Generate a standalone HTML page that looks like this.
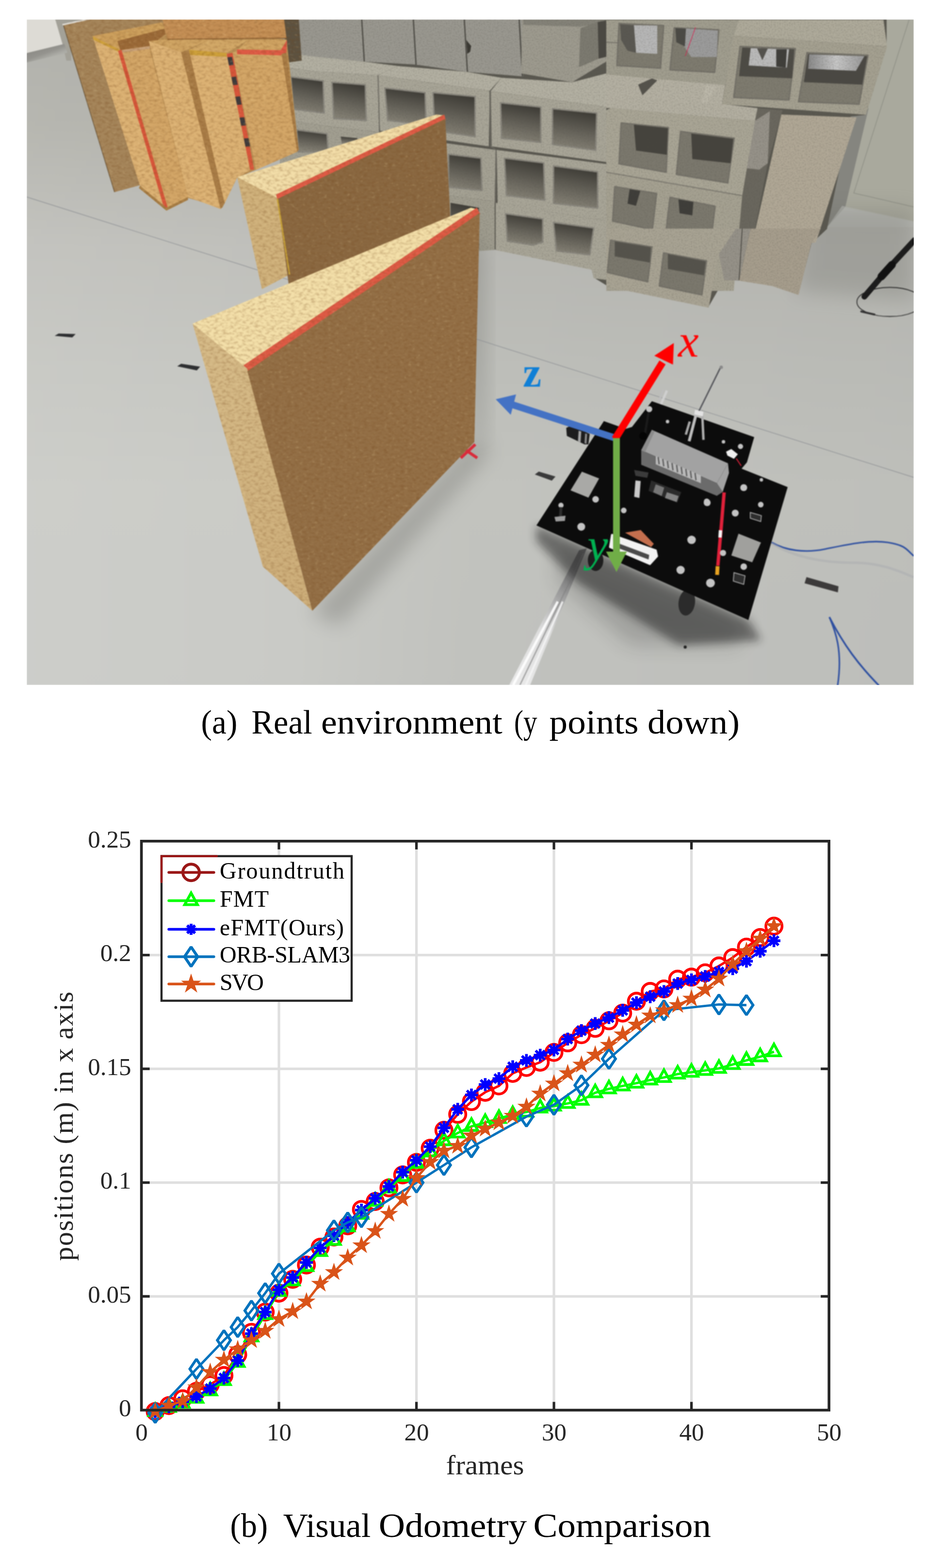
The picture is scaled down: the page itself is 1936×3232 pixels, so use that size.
<!DOCTYPE html>
<html lang="en"><head><meta charset="utf-8"><title>Figure: real environment and visual odometry comparison</title>
<style>
html,body{margin:0;padding:0;background:#fff;}
body{width:1936px;height:3232px;overflow:hidden;position:relative;font-family:"Liberation Serif",serif;}
svg{position:absolute;left:0;top:0;display:block;}
svg text{font-family:"Liberation Serif",serif;}
.cap{position:absolute;white-space:nowrap;font-family:"Liberation Serif",serif;color:#000;line-height:1;}
</style></head><body>
<svg xmlns="http://www.w3.org/2000/svg" width="1936" height="3232" viewBox="0 0 1936 3232">
<defs>
<linearGradient id="floorG" gradientUnits="userSpaceOnUse" x1="0" y1="40" x2="0" y2="1412">
<stop offset="0" stop-color="#a9a9a3"/><stop offset="0.16" stop-color="#afafa8"/><stop offset="0.34" stop-color="#bdbdb8"/><stop offset="0.52" stop-color="#c3c4bf"/><stop offset="0.7" stop-color="#c8c9c4"/><stop offset="1" stop-color="#c7c8c4"/>
</linearGradient>
<linearGradient id="floorG2" gradientUnits="userSpaceOnUse" x1="55" y1="0" x2="1884" y2="0">
<stop offset="0" stop-color="#ffffff" stop-opacity="0.1"/><stop offset="0.3" stop-color="#ffffff" stop-opacity="0.04"/><stop offset="0.5" stop-color="#000000" stop-opacity="0.03"/><stop offset="1" stop-color="#000000" stop-opacity="0.05"/>
</linearGradient>
<linearGradient id="baseG" gradientUnits="userSpaceOnUse" x1="60" y1="103" x2="70" y2="130">
<stop offset="0" stop-color="#8a8984"/><stop offset="0.6" stop-color="#94938e"/><stop offset="1" stop-color="#acaca6"/>
</linearGradient>
<linearGradient id="holeG" x1="0.2" y1="0" x2="0" y2="1">
<stop offset="0" stop-color="#3f3d37"/><stop offset="0.5" stop-color="#68655c"/><stop offset="1" stop-color="#8f8b7e"/>
</linearGradient>
<linearGradient id="glowG" x1="0" y1="0" x2="1" y2="0">
<stop offset="0" stop-color="#8a8a8a"/><stop offset="0.5" stop-color="#c9c9c9"/><stop offset="1" stop-color="#9a9a9a"/>
</linearGradient>
<linearGradient id="railG" gradientUnits="userSpaceOnUse" x1="1200" y1="1132" x2="1070" y2="1412">
<stop offset="0" stop-color="#6f6f6f"/><stop offset="0.35" stop-color="#a5a5a5"/><stop offset="0.6" stop-color="#dcdcdc"/><stop offset="1" stop-color="#e9e9e9"/>
</linearGradient>
<filter id="blur8" x="-20%" y="-20%" width="140%" height="140%"><feGaussianBlur stdDeviation="9"/></filter>
<linearGradient id="nearL" gradientUnits="userSpaceOnUse" x1="450" y1="700" x2="600" y2="1220">
<stop offset="0" stop-color="#d6bb88"/><stop offset="1" stop-color="#cdae7a"/>
</linearGradient>
<filter id="osbTex" x="0" y="0" width="100%" height="100%" color-interpolation-filters="sRGB">
<feTurbulence type="fractalNoise" baseFrequency="0.12 0.2" numOctaves="3" seed="7" result="n"/>
<feColorMatrix in="n" type="matrix" values="0 0 0 0 0.45  0 0 0 0 0.27  0 0 0 0 0.1  0.7 0 0 0 -0.3" result="dk"/>
<feColorMatrix in="n" type="matrix" values="0 0 0 0 1  0 0 0 0 0.92  0 0 0 0 0.7  0 -0.6 0 0 0.24" result="lt"/>
<feComposite in="dk" in2="SourceGraphic" operator="in" result="d2"/>
<feComposite in="lt" in2="SourceGraphic" operator="in" result="l2"/>
<feMerge><feMergeNode in="SourceGraphic"/><feMergeNode in="d2"/><feMergeNode in="l2"/></feMerge>
</filter>
<filter id="conTex" x="0" y="0" width="100%" height="100%" color-interpolation-filters="sRGB">
<feTurbulence type="fractalNoise" baseFrequency="0.4" numOctaves="2" seed="11" result="n"/>
<feColorMatrix in="n" type="matrix" values="0 0 0 0 0.3  0 0 0 0 0.29  0 0 0 0 0.26  0.7 0 0 0 -0.3" result="dk"/>
<feComposite in="dk" in2="SourceGraphic" operator="in" result="d2"/>
<feMerge><feMergeNode in="SourceGraphic"/><feMergeNode in="d2"/></feMerge>
</filter>
<filter id="soft" x="-2%" y="-2%" width="104%" height="104%" color-interpolation-filters="sRGB"><feGaussianBlur stdDeviation="1.1"/></filter>
<filter id="blur20" x="-30%" y="-30%" width="160%" height="160%"><feGaussianBlur stdDeviation="20"/></filter>

<clipPath id="photoClip"><rect x="55" y="40" width="1829" height="1372"/></clipPath>
</defs>
<g clip-path="url(#photoClip)">
<g id="photo" filter="url(#soft)">
<rect x="55" y="40" width="1829" height="1372" fill="url(#floorG)"/>
<rect x="55" y="40" width="1829" height="1372" fill="url(#floorG2)"/>
<polygon points="54.9,40.1 116.7,40.1 132.9,90.6 54.9,109.6" fill="#dddbd5" />
<polygon points="113.9,40.1 185.4,40.1 147.0,54.3 147.0,125.0 136.9,125.0 128.8,90.6" fill="#a3a198" />
<polygon points="54.9,109.6 132.9,90.6 138.9,108.8 54.9,129.1" fill="url(#baseG)" />
<polygon points="1819.4,41.0 1883.8,41.0 1883.8,457.1 1734.0,426.4 1786.6,235.9" fill="#a9a99d" />
<polyline points="1874.2,41.0 1760.3,397.9 1883.8,426.4" fill="none" stroke="#8f9086" stroke-width="1.5" />
<polygon points="1753.7,240.2 1790.9,222.7 1742.8,426.4 1705.5,468.0" fill="#85857f" />
<polygon points="1705.5,468.0 1736.2,424.2 1883.8,455.7 1883.8,468.0" fill="#b9bab6" opacity="0.6"/>
<polygon points="1660,430 1884,430 1884,620 1640,600" fill="#6a6a64" opacity="0.28" filter="url(#blur20)"/>
<g id="blocks" filter="url(#conTex)">
<polygon points="575.0,40.0 1828.0,40.0 1828.0,96.0 1785.0,237.0 1754.0,240.0 1705.0,472.0 1673.0,502.0 1646.0,606.0 1592.0,588.0 1524.0,577.0 1493.0,576.0 1461.0,632.0 1250.0,588.0 1224.0,572.0 1220.0,555.0 1014.0,513.0 986.0,515.0 900.0,400.0 575.0,300.0" fill="#5a5850" />
<polygon points="577.2,40.1 1078.6,40.1 1078.6,157.4 961.3,148.1 856.2,133.1 751.1,127.0 577.2,110.9" fill="#9b9991" />
<polyline points="745.8,40.1 751.1,127.0" fill="none" stroke="#4a4842" stroke-width="2.5" />
<polyline points="852.2,40.1 857.8,133.5" fill="none" stroke="#4a4842" stroke-width="2.5" />
<polyline points="957.3,40.1 963.7,148.1" fill="none" stroke="#4a4842" stroke-width="2.5" />
<polyline points="1070.5,40.1 1077.0,157.4" fill="none" stroke="#4a4842" stroke-width="2.5" />
<polygon points="961.3,82.6 971.4,94.7 969.4,106.8 963.3,110.9" fill="#3a3832" />
<polygon points="1076.5,40.1 1250.0,40.1 1250.0,127.0 1179.6,169.5 1074.5,151.3" fill="#9f9c90" />
<polygon points="1078.6,40.1 1250.0,40.1 1250.0,46.2 1195.8,55.1 1078.6,51.0" fill="#858379" />
<polygon points="1196.6,58.3 1232.2,45.4 1234.2,121.0 1193.8,138.4" fill="#7d7b71" />
<polygon points="1232.2,45.4 1250.0,42.1 1250.0,116.9 1234.2,121.0" fill="#4a4842" />
<polygon points="577.2,106.8 650.0,116.9 751.1,127.0 819.8,135.9 779.4,155.3 650.0,147.3 577.2,137.1" fill="#b5b2a4" />
<polygon points="779.4,155.3 819.8,135.9 961.3,148.1 1034.1,160.2 1009.8,186.9" fill="#b5b2a4" />
<polygon points="1011.9,187.7 1034.1,160.2 1179.6,169.5 1250.0,151.3 1250.0,220.8" fill="#b5b2a4" />
<polygon points="577.2,137.1 650.0,147.3 779.4,155.3 781.4,272.6 650.0,256.4 577.2,246.3" fill="#aaa799" />
<polygon points="779.4,155.3 1009.8,186.9 1007.8,301.7 783.4,269.4" fill="#aaa799" />
<polygon points="1011.9,187.7 1250.0,220.8 1250.0,334.0 1013.9,301.7" fill="#aaa799" />
<polygon points="599.5,158.6 666.2,166.7 668.2,233.0 605.5,224.9" fill="url(#holeG)" stroke-linejoin="round" stroke="#8a877e" stroke-width="3"/>
<polygon points="684.4,169.5 753.1,174.7 755.1,248.3 688.4,244.3" fill="url(#holeG)" stroke-linejoin="round" stroke="#8a877e" stroke-width="3"/>
<polygon points="793.5,181.6 876.4,190.9 878.4,257.2 799.6,248.3" fill="url(#holeG)" stroke-linejoin="round" stroke="#8a877e" stroke-width="3"/>
<polygon points="892.6,190.9 979.5,199.0 979.5,281.5 896.6,269.4" fill="url(#holeG)" stroke-linejoin="round" stroke="#8a877e" stroke-width="3"/>
<polygon points="1032.1,211.9 1115.0,220.8 1115.0,293.6 1034.1,284.7" fill="url(#holeG)" stroke-linejoin="round" stroke="#8a877e" stroke-width="3"/>
<polygon points="1139.2,224.1 1230.2,233.0 1228.2,309.8 1139.2,297.7" fill="url(#holeG)" stroke-linejoin="round" stroke="#8a877e" stroke-width="3"/>
<polygon points="577.2,246.3 650.0,256.4 781.4,272.6 781.4,393.9 577.2,393.9" fill="#a4a193" />
<polygon points="611.6,267.7 674.3,275.8 676.3,313.0 615.6,313.0" fill="url(#holeG)" stroke-linejoin="round" stroke="#8a877e" stroke-width="3"/>
<polygon points="702.6,281.5 736.9,284.7 736.9,292.8 704.6,296.8" fill="url(#holeG)" />
<polygon points="916.8,294.8 1022.0,309.0 1019.9,414.9 916.8,402.0" fill="#a6a395" />
<polygon points="924.9,317.9 991.6,326.0 993.7,392.7 924.9,385.8" fill="url(#holeG)" stroke-linejoin="round" stroke="#8a877e" stroke-width="3"/>
<polygon points="1024.0,309.0 1250.0,338.1 1250.0,455.3 1026.0,418.9" fill="#aaa799" />
<polygon points="1040.2,326.0 1121.0,335.7 1123.0,412.5 1044.2,402.8" fill="url(#holeG)" stroke-linejoin="round" stroke="#8a877e" stroke-width="3"/>
<polygon points="1141.2,342.1 1232.2,354.3 1232.2,429.1 1141.2,418.9" fill="url(#holeG)" stroke-linejoin="round" stroke="#8a877e" stroke-width="3"/>
<polyline points="1009.8,186.9 1011.9,301.7 1022.8,309.0 1021.2,418.1" fill="none" stroke="#6e6b63" stroke-width="2" />
<polyline points="779.4,155.3 782.6,272.6" fill="none" stroke="#6e6b63" stroke-width="2" />
<polygon points="916.8,402.0 1019.9,414.9 1019.9,515.2 985.6,517.6 916.8,517.6" fill="#a29f91" />
<polygon points="929.0,418.1 987.6,428.2 987.6,515.2 929.0,515.2" fill="url(#holeG)" />
<polygon points="1022.0,418.1 1250.0,455.3 1250.0,577.0 1224.1,573.8 1220.1,556.0 1022.0,515.6" fill="#aaa799" />
<polygon points="1042.2,440.4 1119.0,451.3 1119.0,499.0 1098.8,505.1 1046.2,497.0" fill="url(#holeG)" stroke-linejoin="round" stroke="#8a877e" stroke-width="3"/>
<polygon points="1141.2,458.6 1224.1,469.9 1216.0,525.3 1147.3,517.2" fill="url(#holeG)" stroke-linejoin="round" stroke="#8a877e" stroke-width="3"/>
</g>
<polygon points="985,900 1010,930 700,1290 640,1262" fill="#55554f" opacity="0.3" filter="url(#blur20)"/>
<polygon points="928,430 1000,520 1000,900 975,905" fill="#55554f" opacity="0.25" filter="url(#blur20)"/>
<g id="floormarks">
<polyline points="55.0,406.0 1884.0,984.0" fill="none" stroke="#8e9194" stroke-width="1.4" opacity="0.85"/>
<polygon points="112.7,692.3 120.8,687.4 155.9,688.6 149.1,695.5" fill="#2e2f31" />
<polygon points="365.4,754.9 373.5,749.7 412.7,755.7 405.8,763.4" fill="#2e2f31" />
<polygon points="1102.7,978.1 1110.8,971.9 1145.3,982.2 1137.7,990.8" fill="#3a3a3a" />
<polygon points="1662.8,1189.6 1728.8,1208.5 1727.5,1221.1 1658.8,1202.3" fill="#3c3a3a" />
<circle cx="1412.7" cy="1333.8" r="3.2" fill="#222" />
<polyline points="946.0,918.0 984.0,944.0" fill="none" stroke="#d92b3a" stroke-width="6" />
<polyline points="950.0,944.0 980.0,916.0" fill="none" stroke="#d92b3a" stroke-width="6" />
</g>
<g id="blocks2" filter="url(#conTex)">
<polygon points="1250.0,152.6 1495.3,174.5 1488.7,214.0 1556.6,222.7 1556.6,249.0 1258.8,222.7 1250.0,222.7" fill="#b6b2a4" />
<polygon points="1315.7,174.5 1344.2,161.4 1355.1,165.8 1324.5,196.4" fill="#55534c" />
<polygon points="1455.9,174.5 1477.8,176.7 1455.9,214.0 1447.1,211.8" fill="#bdb9ab" />
<polygon points="1611.0,236.0 1766.0,242.0 1682.0,500.0 1658.0,502.0 1640.0,592.0 1525.0,578.0 1557.0,476.0" fill="#b2a997" />
<polygon points="1556.6,222.7 1613.5,227.1 1582.9,336.6 1556.6,472.4 1530.3,517.1 1512.8,517.1 1530.3,402.3 1556.6,249.0" fill="#6a675e" />
<polygon points="1530.3,345.4 1556.6,249.0 1587.3,229.3 1582.9,336.6 1565.4,349.7" fill="#97938a" />
<polygon points="1250.0,41.0 1523.8,41.0 1495.3,175.4 1250.0,153.5" fill="#a29f90" />
<polygon points="1276.3,48.4 1368.3,52.8 1361.7,140.4 1271.9,135.1" fill="#7f7c70" stroke-linejoin="round" stroke="#76736a" stroke-width="3"/>
<polygon points="1390.2,57.2 1482.1,61.5 1473.4,149.1 1381.4,143.9" fill="#7f7c70" stroke-linejoin="round" stroke="#76736a" stroke-width="3"/>
<polygon points="1306.9,51.9 1355.1,52.8 1355.1,111.0 1311.3,108.8" fill="#b9b9b9" />
<polygon points="1278.5,49.7 1306.9,51.9 1311.3,108.8 1293.8,104.5 1280.7,82.6" fill="#5a5852" />
<polygon points="1412.1,58.5 1480.0,62.9 1477.8,117.6 1425.2,117.6 1407.7,91.3" fill="#9d9d9d" />
<polygon points="1392.4,58.0 1414.3,58.9 1412.1,95.7 1394.5,86.9" fill="#4b4a45" />
<polyline points="1434.0,56.3 1412.9,115.4" fill="none" stroke="#e02050" stroke-width="1.2" />
<polyline points="1250.0,86.9 1274.1,88.3" fill="none" stroke="#77746b" stroke-width="2" />
<polygon points="1523.8,41.0 1821.6,41.0 1829.0,95.7 1512.8,73.8" fill="#b0ac9c" />
<polygon points="1512.8,73.8 1829.0,95.7 1785.2,236.7 1488.7,214.8" fill="#a6a292" />
<polygon points="1525.9,95.7 1639.8,100.1 1626.7,206.1 1512.8,200.8" fill="#7f7c70" stroke-linejoin="round" stroke="#76736a" stroke-width="3"/>
<polygon points="1663.9,108.8 1789.6,114.1 1771.2,214.8 1646.4,209.6" fill="#7f7c70" stroke-linejoin="round" stroke="#76736a" stroke-width="3"/>
<polygon points="1530.3,97.9 1637.6,101.4 1633.3,161.4 1523.8,157.0" fill="#4d4b45" />
<polygon points="1547.8,99.2 1626.7,101.4 1622.3,139.5 1543.5,135.1" fill="#bdbdbd" />
<polygon points="1561.0,100.1 1582.9,100.1 1571.9,124.2" fill="#55534e" />
<polygon points="1600.4,101.4 1622.3,101.4 1620.1,139.5 1600.4,137.3" fill="#3f3e3a" />
<polygon points="1666.1,111.0 1787.9,115.8 1777.8,174.5 1657.3,169.3" fill="#4a4843" />
<polygon points="1668.3,111.9 1782.2,115.8 1764.7,146.1 1666.1,141.7" fill="url(#glowG)" />
<polygon points="1258.8,222.7 1289.4,195.6 1561.9,222.7 1556.6,249.0" fill="#b5b1a3" />
<polygon points="1250.0,227.1 1258.8,222.7 1556.6,249.0 1530.3,403.2 1250.0,355.0" fill="#aba797" />
<polygon points="1280.7,253.4 1377.9,263.0 1373.5,355.0 1276.3,337.5" fill="#7c796e" stroke-linejoin="round" stroke="#76736a" stroke-width="3"/>
<polygon points="1403.3,270.9 1513.7,284.9 1500.5,376.9 1394.5,359.4" fill="#7c796e" stroke-linejoin="round" stroke="#76736a" stroke-width="3"/>
<polygon points="1306.9,256.9 1377.0,264.3 1374.8,319.1 1311.3,310.3" fill="#45433d" />
<polygon points="1425.2,275.3 1511.9,286.2 1506.2,336.6 1427.4,327.8" fill="#45433d" />
<polygon points="1250.0,355.0 1530.3,403.2 1512.8,599.4 1250.0,599.4" fill="#a7a393" />
<polygon points="1267.5,384.8 1353.8,398.8 1345.0,473.3 1263.1,455.7" fill="#7c796e" stroke-linejoin="round" stroke="#76736a" stroke-width="3"/>
<polygon points="1381.4,406.7 1474.3,425.1 1465.5,499.5 1372.6,482.0" fill="#7c796e" stroke-linejoin="round" stroke="#76736a" stroke-width="3"/>
<polygon points="1298.2,390.0 1320.1,393.5 1311.3,424.2 1293.8,419.8" fill="#3e3d39" />
<polygon points="1398.9,411.1 1429.6,416.3 1427.4,443.9 1401.1,439.5" fill="#3e3d39" />
<polyline points="1250.0,355.0 1530.3,403.2" fill="none" stroke="#7b786f" stroke-width="2" />
<polygon points="1250.0,471.2 1521.6,471.2 1482.1,523.8 1461.1,634.2 1250.0,590.4" fill="#aaa595" />
<polygon points="1482.1,523.8 1517.2,471.2 1547.8,471.2 1523.8,578.6 1493.1,577.2" fill="#97938a" />
<polygon points="1523.8,578.6 1547.8,471.2 1692.4,471.2 1672.7,501.9 1646.4,607.9 1591.6,589.5" fill="#a89f8e" />
<polyline points="1530.3,471.2 1523.8,577.2" fill="none" stroke="#3f3d38" stroke-width="1.5" />
<polygon points="1258.8,495.3 1344.2,508.9 1335.4,580.7 1252.2,561.5" fill="#7c796e" stroke-linejoin="round" stroke="#76736a" stroke-width="3"/>
<polygon points="1368.3,521.6 1456.7,537.8 1447.1,607.9 1359.5,589.5" fill="#7c796e" stroke-linejoin="round" stroke="#76736a" stroke-width="3"/>
<polygon points="1267.5,497.5 1342.0,509.8 1339.8,541.3 1267.5,528.2" fill="#55534c" />
<polygon points="1377.0,523.8 1455.0,538.7 1451.5,567.6 1377.0,554.5" fill="#55534c" />
</g>
<g id="woodback" filter="url(#osbTex)">
<polygon points="583.7,40.1 616.0,40.1 622.1,125.0 591.8,129.1" fill="#5d5240" />
<polygon points="130.9,52.2 183.4,40.1 337.1,40.1 337.1,62.3 191.5,76.5 288.5,381.8 236.0,395.9" fill="#a5855a" />
<polyline points="128.8,51.0 185.4,38.9" fill="none" stroke="#e4e2dc" stroke-width="3" />
<polyline points="130.9,52.2 236.0,395.9" fill="none" stroke="#5d4a30" stroke-width="1.2" />
<polygon points="191.5,76.5 333.0,46.2 591.0,81.8 616.0,309.0 527.1,350.2 488.7,366.4 458.4,428.2 387.6,408.0 343.1,430.3 288.5,382.6" fill="#b88f55" />
<polygon points="189.5,74.5 333.0,46.2 341.1,62.3 308.8,94.7 248.1,103.6" fill="#cc9f5c" />
<polygon points="242.0,84.6 339.1,59.1 341.1,70.4 308.8,94.7 248.1,103.6" fill="#9b6a38" />
<polygon points="248.1,103.6 308.8,94.7 308.8,104.8 252.2,110.9" fill="#c9a27a" />
<polygon points="191.5,76.5 246.1,102.8 343.1,428.2 288.5,382.6" fill="#dcb274" />
<polygon points="191.5,75.3 246.1,102.0 246.1,107.6 192.3,81.8" fill="#cfa23e" />
<polygon points="250.1,108.8 308.8,100.8 387.6,406.0 343.1,428.2" fill="#d3a667" />
<polyline points="246.9,103.6 341.9,428.2" fill="none" stroke="#d8553a" stroke-width="7.5" />
<polygon points="288.5,382.6 343.1,428.2 387.6,406.0 387.6,412.1 343.1,434.3 286.5,387.8" fill="#a98048" />
<polygon points="306.7,84.6 389.6,77.7 430.1,82.6 373.5,107.6" fill="#cfa463" />
<polygon points="306.7,84.6 373.5,107.6 455.1,431.1 387.6,406.0" fill="#dcb274" />
<polygon points="373.5,107.6 390.4,103.6 463.2,418.9 455.1,431.1" fill="#a97d47" />
<polygon points="389.6,103.6 430.1,82.6 510.9,82.6 467.3,109.6" fill="#d2a867" />
<polygon points="389.6,103.6 467.3,110.9 515.8,350.2 488.7,366.4 463.2,418.9" fill="#dcb274" />
<polygon points="389.6,102.8 467.3,109.2 467.3,117.3 392.0,113.3" fill="#cda03a" />
<polygon points="467.3,110.9 479.4,108.8 523.9,349.4 515.8,350.2" fill="#d9553b" />
<polygon points="468.7,118.0 478.4,117.2 481.8,134.0 472.1,134.8" fill="#3c3a3c" />
<polygon points="477.0,158.7 486.7,157.9 490.1,174.7 480.4,175.5" fill="#3c3a3c" />
<polygon points="485.2,199.4 494.9,198.6 498.3,215.4 488.6,216.2" fill="#3c3a3c" />
<polygon points="493.9,242.5 503.6,241.7 507.0,258.5 497.3,259.3" fill="#3c3a3c" />
<polygon points="502.7,285.6 512.4,284.8 515.8,301.5 506.1,302.3" fill="#3c3a3c" />
<polygon points="478.6,108.8 488.7,104.8 510.9,82.6 591.0,81.8 580.5,103.6" fill="#d0a463" />
<polygon points="479.4,108.8 580.5,106.8 612.8,313.0 527.9,350.2" fill="#d3a667" />
<polygon points="488.7,102.0 578.8,103.6 591.8,82.6 590.2,110.1 578.0,114.1 488.7,111.7" fill="#df5a45" />
<polygon points="580.5,110.9 590.2,108.8 616.0,309.0 612.8,313.0" fill="#a87c46" />
<polygon points="335.0,40.1 585.7,40.1 590.6,78.5 345.1,80.9" fill="#c48f55" />
<polyline points="345.1,80.9 590.6,78.5" fill="none" stroke="#8f6335" stroke-width="2" />
</g>
<g id="panelmid" filter="url(#osbTex)">
<polygon points="489.0,365.0 572.0,405.0 597.0,566.0 540.0,596.0" fill="#d0b27c" />
<polygon points="489.0,365.0 900.0,236.0 917.0,238.0 572.0,408.0" fill="#f2dda8" />
<polygon points="569.0,401.0 916.0,236.0 919.0,248.0 573.0,414.0" fill="#df5a45" />
<polygon points="572.0,410.0 918.0,245.0 928.0,440.0 928.0,600.0 597.0,600.0" fill="#8a6841" />
<polyline points="572.0,410.0 597.0,566.0" fill="none" stroke="#c9a437" stroke-width="3" />
</g>
<g id="panelnear" filter="url(#osbTex)">
<polygon points="397.0,667.0 971.0,428.0 987.0,432.0 510.0,762.0" fill="#f3dfa9" />
<polygon points="502.0,753.0 983.0,428.0 990.0,441.0 511.0,768.0" fill="#df5a45" />
<polygon points="397.0,667.0 510.0,760.0 644.0,1259.0 542.0,1168.0" fill="url(#nearL)" />
<polygon points="510.0,765.0 989.0,439.0 978.0,911.0 644.0,1259.0" fill="#936f46" />
</g>
<polyline points="1885.1,495.3 1832.5,552.3 1782.2,611.4" fill="none" stroke="#1c1c1c" stroke-width="12" stroke-linecap="round"/>
<polyline points="1839.1,545.7 1817.2,569.8" fill="none" stroke="#111" stroke-width="16" stroke-linecap="round"/>
<ellipse cx="1834.7" cy="622.4" rx="68" ry="30" fill="none" stroke="#222" stroke-width="1.6"/>
<polyline points="1775.6,642.1 1802.8,648.2" fill="none" stroke="#333" stroke-width="4" stroke-linecap="round"/>
<path d="M1591,1118 C1620,1135 1660,1140 1700,1132 S1790,1112 1830,1118 S1870,1135 1884,1146" fill="none" stroke="#2e4fa0" stroke-width="3.2"/>
<path d="M1591,1120 C1640,1150 1700,1160 1760,1160 S1860,1180 1884,1190" fill="none" stroke="#a9abb0" stroke-width="5" opacity="0.5"/>
<path d="M1710,1272 C1740,1330 1770,1370 1812,1413" fill="none" stroke="#2e4fa0" stroke-width="3.6"/>
<path d="M1710,1272 C1722,1300 1738,1340 1727,1413" fill="none" stroke="#2e4fa0" stroke-width="3.2"/>
<g id="rail">
<polygon points="1194.0,1134.0 1210.0,1130.0 1093.0,1412.0 1050.0,1412.0" fill="url(#railG)" />
<polyline points="1203.0,1140.0 1072.0,1412.0" fill="none" stroke="#8d8d8d" stroke-width="2.5" opacity="0.8"/>
<polyline points="1150.0,1240.0 1058.0,1412.0" fill="none" stroke="#ffffff" stroke-width="5" opacity="0.9"/>
<polyline points="1160.0,1240.0 1084.0,1412.0" fill="none" stroke="#f4f4f4" stroke-width="4" opacity="0.9"/>
</g>
<g id="robot">
<polygon points="1106,1083 1543,1278 1570,1320 1400,1330 1190,1200 1105,1115" fill="#1a1a1a" opacity="0.5" filter="url(#blur8)"/><polygon points="1150,1120 1540,1285 1520,1330 1300,1330 1150,1200" fill="#1a1a1a" opacity="0.2" filter="url(#blur20)"/>
<ellipse cx="1416" cy="1242" rx="17" ry="27" fill="#2b2b2b" transform="rotate(8 1416 1242)"/>
<ellipse cx="1228" cy="1155" rx="16" ry="22" fill="#1e1e1e"/>
<polyline points="1486.0,757.0 1440.0,850.0" fill="none" stroke="#55565a" stroke-width="3.4" />
<polyline points="1487.0,759.0 1441.0,852.0" fill="none" stroke="#c9c9c9" stroke-width="1" />
<circle cx="1487.0" cy="757.0" r="3.5" fill="#8a8a8a" />
<polyline points="1375.0,805.0 1362.0,835.0" fill="none" stroke="#cfcfcf" stroke-width="5" />
<polyline points="1368.0,803.0 1356.0,832.0" fill="none" stroke="#bdbdbd" stroke-width="4" />
<polygon points="1106.0,1083.0 1245.0,868.0 1290.0,884.0 1303.0,880.0 1344.0,827.0 1555.0,901.0 1540.0,953.0 1529.0,966.0 1624.0,1004.0 1543.0,1278.0" fill="#0c0c0c" />
<polygon points="1167.4,881.9 1178.2,876.5 1215.9,894.6 1213.2,916.1 1205.1,916.1 1168.7,898.6" fill="#1d1d1d" />
<polygon points="1193.0,887.8 1198.4,889.2 1197.0,912.1 1191.6,909.4" fill="#a5a5a5" />
<polygon points="1206.5,893.2 1210.5,894.6 1209.2,914.8 1205.1,913.4" fill="#8d8d8d" />
<polygon points="1199.7,972.2 1235.3,986.2 1213.2,1025.8 1176.3,1010.7" fill="#a9a9a6" />
<polygon points="1522.6,1100.1 1569.0,1118.2 1550.9,1159.1 1507.8,1145.1" fill="#a0a09d" />
<polygon points="1342.6,990.2 1404.6,1014.5 1396.5,1036.1 1337.2,1011.8" fill="#2b2b2b" />
<polygon points="1310.2,990.2 1321.0,991.6 1318.3,1026.6 1307.5,1023.9" fill="#c9c9c9" />
<polygon points="1352.0,998.3 1369.5,1005.1 1364.2,1022.6 1346.6,1014.5" fill="#8a8a8a" opacity="0.8"/>
<polygon points="1374.9,1014.5 1399.2,1022.6 1395.1,1034.7 1370.9,1026.6" fill="#9a9a9a" opacity="0.8"/>
<polygon points="1307.5,968.7 1337.2,974.1 1334.5,984.9 1310.2,980.8" fill="#3b3b3b" />
<polyline points="1436.9,847.4 1420.8,909.4" fill="none" stroke="#bdbdbd" stroke-width="6" />
<polyline points="1447.7,850.1 1450.4,906.7" fill="none" stroke="#b0b0b0" stroke-width="5" />
<polyline points="1422.1,868.9 1414.0,895.9" fill="none" stroke="#a8a8a8" stroke-width="5" />
<polygon points="1432.9,844.7 1450.4,848.7 1449.1,858.2 1431.5,854.1" fill="#e3e3e3" />
<polygon points="1344.0,886.0 1501.0,955.0 1478.0,996.0 1322.0,928.0" fill="#a2a2a2" />
<polygon points="1322.0,928.0 1478.0,996.0 1490.0,1014.0 1478.0,1022.0 1322.0,958.0" fill="#6b6b6b" />
<polygon points="1352.0,940.0 1445.0,980.0 1445.0,996.0 1352.0,957.0" fill="#b8b8b8" />
<polyline points="1357.0,942.0 1359.0,957.0" fill="none" stroke="#555" stroke-width="2.5" />
<polyline points="1366.5,946.1 1368.5,961.1" fill="none" stroke="#555" stroke-width="2.5" />
<polyline points="1376.0,950.2 1378.0,965.2" fill="none" stroke="#555" stroke-width="2.5" />
<polyline points="1385.5,954.3 1387.5,969.3" fill="none" stroke="#555" stroke-width="2.5" />
<polyline points="1395.0,958.4 1397.0,973.4" fill="none" stroke="#555" stroke-width="2.5" />
<polyline points="1404.5,962.5 1406.5,977.5" fill="none" stroke="#555" stroke-width="2.5" />
<polyline points="1414.0,966.6 1416.0,981.6" fill="none" stroke="#555" stroke-width="2.5" />
<polyline points="1423.5,970.7 1425.5,985.7" fill="none" stroke="#555" stroke-width="2.5" />
<polyline points="1433.0,974.8 1435.0,989.8" fill="none" stroke="#555" stroke-width="2.5" />
<polygon points="1478.0,996.0 1501.0,955.0 1503.0,975.0 1490.0,1014.0" fill="#a2a2a2" />
<polygon points="1322.0,928.0 1344.0,886.0 1350.0,889.0 1330.0,932.0" fill="#8c8c8c" />
<polygon points="1497.0,930.9 1507.8,925.6 1521.3,936.3 1513.2,945.8 1499.7,939.0" fill="#f0f0f0" />
<polyline points="1518.0,945.0 1528.0,960.0" fill="none" stroke="#e0203a" stroke-width="2" />
<polyline points="1493.0,1015.0 1486.0,1098.0 1480.0,1166.0" fill="none" stroke="#e0213a" stroke-width="7" />
<polyline points="1485.5,1093.0 1484.5,1108.0" fill="none" stroke="#f3f3f3" stroke-width="7" />
<polyline points="1479.5,1167.0 1478.5,1185.0" fill="none" stroke="#e9a321" stroke-width="8" />
<polygon points="1261.7,1102.5 1352.0,1134.3 1354.7,1146.5 1339.9,1162.6 1257.7,1127.6" fill="#f2f2f2" stroke="#f2f2f2" stroke-width="4" stroke-linejoin="round"/>
<polygon points="1277.9,1120.9 1338.5,1143.8 1337.2,1153.2 1272.5,1128.9" fill="#4a4a4a" />
<polygon points="1288.7,1098.0 1321.0,1092.6 1348.0,1120.9 1342.6,1127.6" fill="#d87a55" opacity="0.9"/>
<circle cx="1338.5" cy="843.3" r="6.3" fill="#c4c4c4" />
<circle cx="1228.0" cy="1029.3" r="6.75" fill="#c4c4c4" />
<circle cx="1156.6" cy="1041.5" r="5.4" fill="#c4c4c4" />
<circle cx="1286.0" cy="1052.2" r="5.8500000000000005" fill="#c4c4c4" />
<circle cx="1457.1" cy="1033.4" r="5.8500000000000005" fill="#c4c4c4" />
<circle cx="1376.3" cy="868.9" r="3.6" fill="#c4c4c4" />
<circle cx="1526.7" cy="920.2" r="5.4" fill="#c4c4c4" />
<circle cx="1533.4" cy="1005.1" r="7.2" fill="#c4c4c4" />
<circle cx="1568.5" cy="1040.1" r="5.8500000000000005" fill="#c4c4c4" />
<circle cx="1515.9" cy="1057.6" r="7.2" fill="#c4c4c4" />
<circle cx="1458.0" cy="1036.1" r="7.2" fill="#c4c4c4" />
<circle cx="1491.6" cy="910.7" r="3.6" fill="#c4c4c4" />
<circle cx="1569.8" cy="988.9" r="3.6" fill="#c4c4c4" />
<circle cx="1198.4" cy="1085.8" r="8.1" fill="#c4c4c4" />
<circle cx="1426.1" cy="1112.8" r="8.55" fill="#c4c4c4" />
<circle cx="1403.2" cy="1174.8" r="8.55" fill="#c4c4c4" />
<circle cx="1465.2" cy="1201.7" r="8.55" fill="#c4c4c4" />
<circle cx="1490.8" cy="1139.7" r="6.3" fill="#c4c4c4" />
<circle cx="1425.6" cy="1112.8" r="8.55" fill="#c4c4c4" />
<circle cx="1490.3" cy="1139.7" r="5.8500000000000005" fill="#c4c4c4" />
<circle cx="1464.7" cy="1201.7" r="9.0" fill="#c4c4c4" />
<circle cx="1533.4" cy="1168.0" r="6.75" fill="#c4c4c4" />
<polyline points="1337.2,850.1 1329.1,898.6" fill="none" stroke="#1a1a1a" stroke-width="5" />
<circle cx="1325.9" cy="898.6" r="8" fill="#050505" />
<polyline points="1156.6,1045.4 1155.3,1069.6" fill="none" stroke="#2c2c2c" stroke-width="6" />
<polygon points="1143.1,1065.6 1166.0,1062.9 1164.7,1073.7 1145.8,1075.0" fill="#9c9c9c" />
<polygon points="1513.2,1180.2 1536.1,1186.9 1533.4,1204.4 1511.9,1197.7" fill="#2e2e2e" stroke="#bbb" stroke-width="1.5"/>
<polygon points="1546.9,1056.2 1569.8,1062.9 1568.5,1075.0 1546.9,1068.3" fill="#2e2e2e" stroke="#bbb" stroke-width="1.5"/>
</g>
<g id="arrows">
<polyline points="1272.0,904.0 1056.0,834.0" fill="none" stroke="#4472c4" stroke-width="14" />
<polygon points="1022.0,823.0 1064.0,813.0 1053.0,855.0" fill="#4472c4" />
<polyline points="1268.0,905.0 1366.0,747.0" fill="none" stroke="#ff0000" stroke-width="15" />
<polygon points="1389.3,706.9 1349.0,733.2 1387.5,751.6" fill="#ff0000" />
<polyline points="1271.0,903.0 1271.0,1140.0" fill="none" stroke="#70ad47" stroke-width="14" />
<polygon points="1249.5,1137.0 1292.5,1137.0 1271.0,1179.0" fill="#70ad47" />
</g>
<text x="1398" y="735" font-family="'Liberation Serif', serif" font-style="italic" font-size="96" fill="#ff0000">x</text>
<text x="1078" y="797" font-family="'Liberation Serif', serif" font-weight="bold" font-size="86" fill="#0f7fd6">z</text>
<text x="1211" y="1156" font-family="'Liberation Serif', serif" font-style="italic" font-size="96" fill="#00b050">y</text>
</g>
</g>
<g id="chart">
<rect x="291.6" y="1733.8" width="1417.6" height="1172.8" fill="#fff"/>
<line x1="575.1" y1="1733.8" x2="575.1" y2="2906.6" stroke="#dfdfdf" stroke-width="5.3"/>
<line x1="858.6" y1="1733.8" x2="858.6" y2="2906.6" stroke="#dfdfdf" stroke-width="5.3"/>
<line x1="1142.1" y1="1733.8" x2="1142.1" y2="2906.6" stroke="#dfdfdf" stroke-width="5.3"/>
<line x1="1425.6" y1="1733.8" x2="1425.6" y2="2906.6" stroke="#dfdfdf" stroke-width="5.3"/>
<line x1="291.6" y1="2672.1" x2="1709.2" y2="2672.1" stroke="#dfdfdf" stroke-width="5.3"/>
<line x1="291.6" y1="2437.6" x2="1709.2" y2="2437.6" stroke="#dfdfdf" stroke-width="5.3"/>
<line x1="291.6" y1="2203.1" x2="1709.2" y2="2203.1" stroke="#dfdfdf" stroke-width="5.3"/>
<line x1="291.6" y1="1968.6" x2="1709.2" y2="1968.6" stroke="#dfdfdf" stroke-width="5.3"/>
<line x1="575.1" y1="2906.6" x2="575.1" y2="2889.6" stroke="#262626" stroke-width="5.3"/>
<line x1="575.1" y1="1733.8" x2="575.1" y2="1750.8" stroke="#262626" stroke-width="5.3"/>
<line x1="858.6" y1="2906.6" x2="858.6" y2="2889.6" stroke="#262626" stroke-width="5.3"/>
<line x1="858.6" y1="1733.8" x2="858.6" y2="1750.8" stroke="#262626" stroke-width="5.3"/>
<line x1="1142.1" y1="2906.6" x2="1142.1" y2="2889.6" stroke="#262626" stroke-width="5.3"/>
<line x1="1142.1" y1="1733.8" x2="1142.1" y2="1750.8" stroke="#262626" stroke-width="5.3"/>
<line x1="1425.6" y1="2906.6" x2="1425.6" y2="2889.6" stroke="#262626" stroke-width="5.3"/>
<line x1="1425.6" y1="1733.8" x2="1425.6" y2="1750.8" stroke="#262626" stroke-width="5.3"/>
<line x1="291.6" y1="2672.1" x2="308.6" y2="2672.1" stroke="#262626" stroke-width="5.3"/>
<line x1="1709.2" y1="2672.1" x2="1692.2" y2="2672.1" stroke="#262626" stroke-width="5.3"/>
<line x1="291.6" y1="2437.6" x2="308.6" y2="2437.6" stroke="#262626" stroke-width="5.3"/>
<line x1="1709.2" y1="2437.6" x2="1692.2" y2="2437.6" stroke="#262626" stroke-width="5.3"/>
<line x1="291.6" y1="2203.1" x2="308.6" y2="2203.1" stroke="#262626" stroke-width="5.3"/>
<line x1="1709.2" y1="2203.1" x2="1692.2" y2="2203.1" stroke="#262626" stroke-width="5.3"/>
<line x1="291.6" y1="1968.6" x2="308.6" y2="1968.6" stroke="#262626" stroke-width="5.3"/>
<line x1="1709.2" y1="1968.6" x2="1692.2" y2="1968.6" stroke="#262626" stroke-width="5.3"/>
<polyline points="320.0,2909.4 348.3,2897.2 376.7,2883.2 405.0,2867.7 433.4,2854.1 461.7,2835.3 490.1,2792.2 518.4,2746.2 546.8,2704.5 575.1,2665.5 603.5,2636.9 631.8,2607.4 660.2,2570.8 688.5,2549.7 716.9,2526.7 745.2,2492.9 773.6,2476.5 801.9,2448.4 830.2,2421.7 858.6,2395.9 887.0,2366.8 915.3,2329.7 943.7,2296.9 972.0,2270.6 1000.4,2251.4 1028.7,2238.3 1057.1,2212.5 1085.4,2200.3 1113.8,2189.5 1142.1,2169.3 1170.5,2149.6 1198.8,2132.8 1227.2,2119.6 1255.5,2104.1 1283.8,2088.2 1312.2,2063.8 1340.6,2043.6 1368.9,2038.5 1397.2,2018.3 1425.6,2014.1 1454.0,2005.2 1482.3,1991.1 1510.7,1973.8 1539.0,1952.2 1567.3,1932.5 1595.7,1909.0" fill="none" stroke="#ff0000" stroke-width="4.9" stroke-linejoin="round"/><circle cx="320.0" cy="2909.4" r="16.7" fill="none" stroke="#ff0000" stroke-width="5.6"/><circle cx="348.3" cy="2897.2" r="16.7" fill="none" stroke="#ff0000" stroke-width="5.6"/><circle cx="376.7" cy="2883.2" r="16.7" fill="none" stroke="#ff0000" stroke-width="5.6"/><circle cx="405.0" cy="2867.7" r="16.7" fill="none" stroke="#ff0000" stroke-width="5.6"/><circle cx="433.4" cy="2854.1" r="16.7" fill="none" stroke="#ff0000" stroke-width="5.6"/><circle cx="461.7" cy="2835.3" r="16.7" fill="none" stroke="#ff0000" stroke-width="5.6"/><circle cx="490.1" cy="2792.2" r="16.7" fill="none" stroke="#ff0000" stroke-width="5.6"/><circle cx="518.4" cy="2746.2" r="16.7" fill="none" stroke="#ff0000" stroke-width="5.6"/><circle cx="546.8" cy="2704.5" r="16.7" fill="none" stroke="#ff0000" stroke-width="5.6"/><circle cx="575.1" cy="2665.5" r="16.7" fill="none" stroke="#ff0000" stroke-width="5.6"/><circle cx="603.5" cy="2636.9" r="16.7" fill="none" stroke="#ff0000" stroke-width="5.6"/><circle cx="631.8" cy="2607.4" r="16.7" fill="none" stroke="#ff0000" stroke-width="5.6"/><circle cx="660.2" cy="2570.8" r="16.7" fill="none" stroke="#ff0000" stroke-width="5.6"/><circle cx="688.5" cy="2549.7" r="16.7" fill="none" stroke="#ff0000" stroke-width="5.6"/><circle cx="716.9" cy="2526.7" r="16.7" fill="none" stroke="#ff0000" stroke-width="5.6"/><circle cx="745.2" cy="2492.9" r="16.7" fill="none" stroke="#ff0000" stroke-width="5.6"/><circle cx="773.6" cy="2476.5" r="16.7" fill="none" stroke="#ff0000" stroke-width="5.6"/><circle cx="801.9" cy="2448.4" r="16.7" fill="none" stroke="#ff0000" stroke-width="5.6"/><circle cx="830.2" cy="2421.7" r="16.7" fill="none" stroke="#ff0000" stroke-width="5.6"/><circle cx="858.6" cy="2395.9" r="16.7" fill="none" stroke="#ff0000" stroke-width="5.6"/><circle cx="887.0" cy="2366.8" r="16.7" fill="none" stroke="#ff0000" stroke-width="5.6"/><circle cx="915.3" cy="2329.7" r="16.7" fill="none" stroke="#ff0000" stroke-width="5.6"/><circle cx="943.7" cy="2296.9" r="16.7" fill="none" stroke="#ff0000" stroke-width="5.6"/><circle cx="972.0" cy="2270.6" r="16.7" fill="none" stroke="#ff0000" stroke-width="5.6"/><circle cx="1000.4" cy="2251.4" r="16.7" fill="none" stroke="#ff0000" stroke-width="5.6"/><circle cx="1028.7" cy="2238.3" r="16.7" fill="none" stroke="#ff0000" stroke-width="5.6"/><circle cx="1057.1" cy="2212.5" r="16.7" fill="none" stroke="#ff0000" stroke-width="5.6"/><circle cx="1085.4" cy="2200.3" r="16.7" fill="none" stroke="#ff0000" stroke-width="5.6"/><circle cx="1113.8" cy="2189.5" r="16.7" fill="none" stroke="#ff0000" stroke-width="5.6"/><circle cx="1142.1" cy="2169.3" r="16.7" fill="none" stroke="#ff0000" stroke-width="5.6"/><circle cx="1170.5" cy="2149.6" r="16.7" fill="none" stroke="#ff0000" stroke-width="5.6"/><circle cx="1198.8" cy="2132.8" r="16.7" fill="none" stroke="#ff0000" stroke-width="5.6"/><circle cx="1227.2" cy="2119.6" r="16.7" fill="none" stroke="#ff0000" stroke-width="5.6"/><circle cx="1255.5" cy="2104.1" r="16.7" fill="none" stroke="#ff0000" stroke-width="5.6"/><circle cx="1283.8" cy="2088.2" r="16.7" fill="none" stroke="#ff0000" stroke-width="5.6"/><circle cx="1312.2" cy="2063.8" r="16.7" fill="none" stroke="#ff0000" stroke-width="5.6"/><circle cx="1340.6" cy="2043.6" r="16.7" fill="none" stroke="#ff0000" stroke-width="5.6"/><circle cx="1368.9" cy="2038.5" r="16.7" fill="none" stroke="#ff0000" stroke-width="5.6"/><circle cx="1397.2" cy="2018.3" r="16.7" fill="none" stroke="#ff0000" stroke-width="5.6"/><circle cx="1425.6" cy="2014.1" r="16.7" fill="none" stroke="#ff0000" stroke-width="5.6"/><circle cx="1454.0" cy="2005.2" r="16.7" fill="none" stroke="#ff0000" stroke-width="5.6"/><circle cx="1482.3" cy="1991.1" r="16.7" fill="none" stroke="#ff0000" stroke-width="5.6"/><circle cx="1510.7" cy="1973.8" r="16.7" fill="none" stroke="#ff0000" stroke-width="5.6"/><circle cx="1539.0" cy="1952.2" r="16.7" fill="none" stroke="#ff0000" stroke-width="5.6"/><circle cx="1567.3" cy="1932.5" r="16.7" fill="none" stroke="#ff0000" stroke-width="5.6"/><circle cx="1595.7" cy="1909.0" r="16.7" fill="none" stroke="#ff0000" stroke-width="5.6"/>
<polyline points="320.0,2909.4 348.3,2901.0 376.7,2892.5 405.0,2882.2 433.4,2866.7 461.7,2845.6 490.1,2808.1 518.4,2755.6 546.8,2709.6 575.1,2661.8 603.5,2640.2 631.8,2610.7 660.2,2579.7 688.5,2556.7 716.9,2528.6 745.2,2502.8 773.6,2476.1 801.9,2448.9 830.2,2424.9 858.6,2397.7 887.0,2374.3 915.3,2351.3 943.7,2335.4 972.0,2321.8 1000.4,2313.8 1028.7,2305.3 1057.1,2297.4 1085.4,2292.2 1113.8,2283.8 1142.1,2280.0 1170.5,2274.4 1198.8,2267.8 1227.2,2252.3 1255.5,2244.4 1283.8,2238.3 1312.2,2232.6 1340.6,2226.1 1368.9,2220.9 1397.2,2213.9 1425.6,2210.1 1454.0,2206.4 1482.3,2202.2 1510.7,2194.2 1539.0,2185.7 1567.3,2178.2 1595.7,2167.9" fill="none" stroke="#00ff00" stroke-width="4.9" stroke-linejoin="round"/><polygon points="320.0,2893.6 333.2,2917.7 306.8,2917.7" fill="none" stroke="#00ff00" stroke-width="5.6" stroke-linejoin="miter"/><polygon points="348.3,2885.1 361.5,2909.3 335.1,2909.3" fill="none" stroke="#00ff00" stroke-width="5.6" stroke-linejoin="miter"/><polygon points="376.7,2876.7 389.9,2900.8 363.5,2900.8" fill="none" stroke="#00ff00" stroke-width="5.6" stroke-linejoin="miter"/><polygon points="405.0,2866.4 418.2,2890.5 391.8,2890.5" fill="none" stroke="#00ff00" stroke-width="5.6" stroke-linejoin="miter"/><polygon points="433.4,2850.9 446.6,2875.1 420.2,2875.1" fill="none" stroke="#00ff00" stroke-width="5.6" stroke-linejoin="miter"/><polygon points="461.7,2829.8 474.9,2853.9 448.5,2853.9" fill="none" stroke="#00ff00" stroke-width="5.6" stroke-linejoin="miter"/><polygon points="490.1,2792.3 503.3,2816.4 476.9,2816.4" fill="none" stroke="#00ff00" stroke-width="5.6" stroke-linejoin="miter"/><polygon points="518.4,2739.7 531.6,2763.9 505.2,2763.9" fill="none" stroke="#00ff00" stroke-width="5.6" stroke-linejoin="miter"/><polygon points="546.8,2693.8 560.0,2717.9 533.5,2717.9" fill="none" stroke="#00ff00" stroke-width="5.6" stroke-linejoin="miter"/><polygon points="575.1,2645.9 588.3,2670.1 561.9,2670.1" fill="none" stroke="#00ff00" stroke-width="5.6" stroke-linejoin="miter"/><polygon points="603.5,2624.4 616.7,2648.5 590.2,2648.5" fill="none" stroke="#00ff00" stroke-width="5.6" stroke-linejoin="miter"/><polygon points="631.8,2594.8 645.0,2619.0 618.6,2619.0" fill="none" stroke="#00ff00" stroke-width="5.6" stroke-linejoin="miter"/><polygon points="660.2,2563.9 673.4,2588.0 647.0,2588.0" fill="none" stroke="#00ff00" stroke-width="5.6" stroke-linejoin="miter"/><polygon points="688.5,2540.9 701.7,2565.0 675.3,2565.0" fill="none" stroke="#00ff00" stroke-width="5.6" stroke-linejoin="miter"/><polygon points="716.9,2512.7 730.1,2536.9 703.6,2536.9" fill="none" stroke="#00ff00" stroke-width="5.6" stroke-linejoin="miter"/><polygon points="745.2,2487.0 758.4,2511.1 732.0,2511.1" fill="none" stroke="#00ff00" stroke-width="5.6" stroke-linejoin="miter"/><polygon points="773.6,2460.2 786.8,2484.4 760.4,2484.4" fill="none" stroke="#00ff00" stroke-width="5.6" stroke-linejoin="miter"/><polygon points="801.9,2433.0 815.1,2457.2 788.7,2457.2" fill="none" stroke="#00ff00" stroke-width="5.6" stroke-linejoin="miter"/><polygon points="830.2,2409.1 843.5,2433.3 817.0,2433.3" fill="none" stroke="#00ff00" stroke-width="5.6" stroke-linejoin="miter"/><polygon points="858.6,2381.9 871.8,2406.1 845.4,2406.1" fill="none" stroke="#00ff00" stroke-width="5.6" stroke-linejoin="miter"/><polygon points="887.0,2358.4 900.2,2382.6 873.8,2382.6" fill="none" stroke="#00ff00" stroke-width="5.6" stroke-linejoin="miter"/><polygon points="915.3,2335.5 928.5,2359.6 902.1,2359.6" fill="none" stroke="#00ff00" stroke-width="5.6" stroke-linejoin="miter"/><polygon points="943.7,2319.5 956.9,2343.7 930.5,2343.7" fill="none" stroke="#00ff00" stroke-width="5.6" stroke-linejoin="miter"/><polygon points="972.0,2305.9 985.2,2330.1 958.8,2330.1" fill="none" stroke="#00ff00" stroke-width="5.6" stroke-linejoin="miter"/><polygon points="1000.4,2297.9 1013.6,2322.1 987.1,2322.1" fill="none" stroke="#00ff00" stroke-width="5.6" stroke-linejoin="miter"/><polygon points="1028.7,2289.5 1041.9,2313.7 1015.5,2313.7" fill="none" stroke="#00ff00" stroke-width="5.6" stroke-linejoin="miter"/><polygon points="1057.1,2281.5 1070.3,2305.7 1043.9,2305.7" fill="none" stroke="#00ff00" stroke-width="5.6" stroke-linejoin="miter"/><polygon points="1085.4,2276.4 1098.6,2300.5 1072.2,2300.5" fill="none" stroke="#00ff00" stroke-width="5.6" stroke-linejoin="miter"/><polygon points="1113.8,2267.9 1127.0,2292.1 1100.5,2292.1" fill="none" stroke="#00ff00" stroke-width="5.6" stroke-linejoin="miter"/><polygon points="1142.1,2264.2 1155.3,2288.3 1128.9,2288.3" fill="none" stroke="#00ff00" stroke-width="5.6" stroke-linejoin="miter"/><polygon points="1170.5,2258.5 1183.7,2282.7 1157.2,2282.7" fill="none" stroke="#00ff00" stroke-width="5.6" stroke-linejoin="miter"/><polygon points="1198.8,2252.0 1212.0,2276.1 1185.6,2276.1" fill="none" stroke="#00ff00" stroke-width="5.6" stroke-linejoin="miter"/><polygon points="1227.2,2236.5 1240.4,2260.7 1214.0,2260.7" fill="none" stroke="#00ff00" stroke-width="5.6" stroke-linejoin="miter"/><polygon points="1255.5,2228.5 1268.7,2252.7 1242.3,2252.7" fill="none" stroke="#00ff00" stroke-width="5.6" stroke-linejoin="miter"/><polygon points="1283.8,2222.4 1297.0,2246.6 1270.6,2246.6" fill="none" stroke="#00ff00" stroke-width="5.6" stroke-linejoin="miter"/><polygon points="1312.2,2216.8 1325.4,2241.0 1299.0,2241.0" fill="none" stroke="#00ff00" stroke-width="5.6" stroke-linejoin="miter"/><polygon points="1340.6,2210.2 1353.8,2234.4 1327.4,2234.4" fill="none" stroke="#00ff00" stroke-width="5.6" stroke-linejoin="miter"/><polygon points="1368.9,2205.1 1382.1,2229.2 1355.7,2229.2" fill="none" stroke="#00ff00" stroke-width="5.6" stroke-linejoin="miter"/><polygon points="1397.2,2198.0 1410.5,2222.2 1384.0,2222.2" fill="none" stroke="#00ff00" stroke-width="5.6" stroke-linejoin="miter"/><polygon points="1425.6,2194.3 1438.8,2218.5 1412.4,2218.5" fill="none" stroke="#00ff00" stroke-width="5.6" stroke-linejoin="miter"/><polygon points="1454.0,2190.5 1467.2,2214.7 1440.8,2214.7" fill="none" stroke="#00ff00" stroke-width="5.6" stroke-linejoin="miter"/><polygon points="1482.3,2186.3 1495.5,2210.5 1469.1,2210.5" fill="none" stroke="#00ff00" stroke-width="5.6" stroke-linejoin="miter"/><polygon points="1510.7,2178.3 1523.9,2202.5 1497.5,2202.5" fill="none" stroke="#00ff00" stroke-width="5.6" stroke-linejoin="miter"/><polygon points="1539.0,2169.9 1552.2,2194.1 1525.8,2194.1" fill="none" stroke="#00ff00" stroke-width="5.6" stroke-linejoin="miter"/><polygon points="1567.3,2162.4 1580.5,2186.6 1554.1,2186.6" fill="none" stroke="#00ff00" stroke-width="5.6" stroke-linejoin="miter"/><polygon points="1595.7,2152.1 1608.9,2176.2 1582.5,2176.2" fill="none" stroke="#00ff00" stroke-width="5.6" stroke-linejoin="miter"/>
<polyline points="320.0,2909.4 348.3,2899.6 376.7,2889.2 405.0,2878.5 433.4,2862.0 461.7,2840.5 490.1,2804.4 518.4,2749.0 546.8,2704.5 575.1,2658.5 603.5,2633.2 631.8,2602.2 660.2,2572.2 688.5,2546.9 716.9,2519.7 745.2,2494.3 773.6,2470.0 801.9,2445.6 830.2,2416.0 858.6,2391.6 887.0,2363.5 915.3,2324.6 943.7,2286.6 972.0,2257.0 1000.4,2235.5 1028.7,2223.3 1057.1,2198.9 1085.4,2185.7 1113.8,2175.0 1142.1,2164.2 1170.5,2141.7 1198.8,2124.3 1227.2,2109.8 1255.5,2097.6 1283.8,2082.6 1312.2,2066.6 1340.6,2054.4 1368.9,2043.6 1397.2,2027.2 1425.6,2019.7 1454.0,2012.7 1482.3,2003.3 1510.7,1996.7 1539.0,1981.3 1567.3,1960.6 1595.7,1939.1" fill="none" stroke="#0000ff" stroke-width="4.9" stroke-linejoin="round"/><path d="M306.7 2909.4H333.2M320.0 2896.2V2922.7M310.6 2900.0L329.3 2918.8M310.6 2918.8L329.3 2900.0" fill="none" stroke="#0000ff" stroke-width="5.6"/><path d="M335.1 2899.6H361.6M348.3 2886.3V2912.8M338.9 2890.2L357.7 2908.9M338.9 2908.9L357.7 2890.2" fill="none" stroke="#0000ff" stroke-width="5.6"/><path d="M363.4 2889.2H389.9M376.7 2876.0V2902.5M367.3 2879.9L386.0 2898.6M367.3 2898.6L386.0 2879.9" fill="none" stroke="#0000ff" stroke-width="5.6"/><path d="M391.8 2878.5H418.2M405.0 2865.2V2891.7M395.6 2869.1L414.4 2887.8M395.6 2887.8L414.4 2869.1" fill="none" stroke="#0000ff" stroke-width="5.6"/><path d="M420.1 2862.0H446.6M433.4 2848.8V2875.3M424.0 2852.7L442.7 2871.4M424.0 2871.4L442.7 2852.7" fill="none" stroke="#0000ff" stroke-width="5.6"/><path d="M448.5 2840.5H475.0M461.7 2827.2V2853.7M452.3 2831.1L471.1 2849.8M452.3 2849.8L471.1 2831.1" fill="none" stroke="#0000ff" stroke-width="5.6"/><path d="M476.8 2804.4H503.3M490.1 2791.1V2817.6M480.7 2795.0L499.4 2813.7M480.7 2813.7L499.4 2795.0" fill="none" stroke="#0000ff" stroke-width="5.6"/><path d="M505.2 2749.0H531.7M518.4 2735.8V2762.3M509.0 2739.6L527.8 2758.4M509.0 2758.4L527.8 2739.6" fill="none" stroke="#0000ff" stroke-width="5.6"/><path d="M533.5 2704.5H560.0M546.8 2691.2V2717.7M537.4 2695.1L556.1 2713.8M537.4 2713.8L556.1 2695.1" fill="none" stroke="#0000ff" stroke-width="5.6"/><path d="M561.9 2658.5H588.4M575.1 2645.2V2671.7M565.7 2649.1L584.5 2667.9M565.7 2667.9L584.5 2649.1" fill="none" stroke="#0000ff" stroke-width="5.6"/><path d="M590.2 2633.2H616.7M603.5 2619.9V2646.4M594.1 2623.8L612.8 2642.5M594.1 2642.5L612.8 2623.8" fill="none" stroke="#0000ff" stroke-width="5.6"/><path d="M618.6 2602.2H645.1M631.8 2589.0V2615.5M622.4 2592.8L641.2 2611.6M622.4 2611.6L641.2 2592.8" fill="none" stroke="#0000ff" stroke-width="5.6"/><path d="M646.9 2572.2H673.4M660.2 2559.0V2585.5M650.8 2562.8L669.5 2581.6M650.8 2581.6L669.5 2562.8" fill="none" stroke="#0000ff" stroke-width="5.6"/><path d="M675.2 2546.9H701.8M688.5 2533.6V2560.1M679.1 2537.5L697.9 2556.2M679.1 2556.2L697.9 2537.5" fill="none" stroke="#0000ff" stroke-width="5.6"/><path d="M703.6 2519.7H730.1M716.9 2506.4V2532.9M707.5 2510.3L726.2 2529.0M707.5 2529.0L726.2 2510.3" fill="none" stroke="#0000ff" stroke-width="5.6"/><path d="M732.0 2494.3H758.5M745.2 2481.1V2507.6M735.8 2485.0L754.6 2503.7M735.8 2503.7L754.6 2485.0" fill="none" stroke="#0000ff" stroke-width="5.6"/><path d="M760.3 2470.0H786.8M773.6 2456.7V2483.2M764.2 2460.6L782.9 2479.3M764.2 2479.3L782.9 2460.6" fill="none" stroke="#0000ff" stroke-width="5.6"/><path d="M788.7 2445.6H815.2M801.9 2432.3V2458.8M792.5 2436.2L811.3 2454.9M792.5 2454.9L811.3 2436.2" fill="none" stroke="#0000ff" stroke-width="5.6"/><path d="M817.0 2416.0H843.5M830.2 2402.8V2429.3M820.9 2406.7L839.6 2425.4M820.9 2425.4L839.6 2406.7" fill="none" stroke="#0000ff" stroke-width="5.6"/><path d="M845.4 2391.6H871.9M858.6 2378.4V2404.9M849.2 2382.3L868.0 2401.0M849.2 2401.0L868.0 2382.3" fill="none" stroke="#0000ff" stroke-width="5.6"/><path d="M873.7 2363.5H900.2M887.0 2350.2V2376.7M877.6 2354.1L896.3 2372.9M877.6 2372.9L896.3 2354.1" fill="none" stroke="#0000ff" stroke-width="5.6"/><path d="M902.1 2324.6H928.6M915.3 2311.3V2337.8M905.9 2315.2L924.7 2333.9M905.9 2333.9L924.7 2315.2" fill="none" stroke="#0000ff" stroke-width="5.6"/><path d="M930.4 2286.6H956.9M943.7 2273.3V2299.8M934.3 2277.2L953.0 2296.0M934.3 2296.0L953.0 2277.2" fill="none" stroke="#0000ff" stroke-width="5.6"/><path d="M958.8 2257.0H985.3M972.0 2243.8V2270.3M962.6 2247.7L981.4 2266.4M962.6 2266.4L981.4 2247.7" fill="none" stroke="#0000ff" stroke-width="5.6"/><path d="M987.1 2235.5H1013.6M1000.4 2222.2V2248.7M991.0 2226.1L1009.7 2244.8M991.0 2244.8L1009.7 2226.1" fill="none" stroke="#0000ff" stroke-width="5.6"/><path d="M1015.5 2223.3H1042.0M1028.7 2210.0V2236.5M1019.3 2213.9L1038.1 2232.6M1019.3 2232.6L1038.1 2213.9" fill="none" stroke="#0000ff" stroke-width="5.6"/><path d="M1043.8 2198.9H1070.3M1057.1 2185.6V2212.1M1047.7 2189.5L1066.4 2208.2M1047.7 2208.2L1066.4 2189.5" fill="none" stroke="#0000ff" stroke-width="5.6"/><path d="M1072.2 2185.7H1098.7M1085.4 2172.5V2199.0M1076.0 2176.4L1094.8 2195.1M1076.0 2195.1L1094.8 2176.4" fill="none" stroke="#0000ff" stroke-width="5.6"/><path d="M1100.5 2175.0H1127.0M1113.8 2161.7V2188.2M1104.4 2165.6L1123.1 2184.3M1104.4 2184.3L1123.1 2165.6" fill="none" stroke="#0000ff" stroke-width="5.6"/><path d="M1128.8 2164.2H1155.3M1142.1 2150.9V2177.4M1132.7 2154.8L1151.5 2173.5M1132.7 2173.5L1151.5 2154.8" fill="none" stroke="#0000ff" stroke-width="5.6"/><path d="M1157.2 2141.7H1183.7M1170.5 2128.4V2154.9M1161.1 2132.3L1179.8 2151.0M1161.1 2151.0L1179.8 2132.3" fill="none" stroke="#0000ff" stroke-width="5.6"/><path d="M1185.6 2124.3H1212.1M1198.8 2111.1V2137.6M1189.4 2114.9L1208.2 2133.7M1189.4 2133.7L1208.2 2114.9" fill="none" stroke="#0000ff" stroke-width="5.6"/><path d="M1213.9 2109.8H1240.4M1227.2 2096.5V2123.0M1217.8 2100.4L1236.5 2119.1M1217.8 2119.1L1236.5 2100.4" fill="none" stroke="#0000ff" stroke-width="5.6"/><path d="M1242.2 2097.6H1268.8M1255.5 2084.3V2110.8M1246.1 2088.2L1264.9 2106.9M1246.1 2106.9L1264.9 2088.2" fill="none" stroke="#0000ff" stroke-width="5.6"/><path d="M1270.6 2082.6H1297.1M1283.8 2069.3V2095.8M1274.5 2073.2L1293.2 2091.9M1274.5 2091.9L1293.2 2073.2" fill="none" stroke="#0000ff" stroke-width="5.6"/><path d="M1299.0 2066.6H1325.5M1312.2 2053.4V2079.9M1302.8 2057.3L1321.6 2076.0M1302.8 2076.0L1321.6 2057.3" fill="none" stroke="#0000ff" stroke-width="5.6"/><path d="M1327.3 2054.4H1353.8M1340.6 2041.2V2067.7M1331.2 2045.1L1349.9 2063.8M1331.2 2063.8L1349.9 2045.1" fill="none" stroke="#0000ff" stroke-width="5.6"/><path d="M1355.7 2043.6H1382.2M1368.9 2030.4V2056.9M1359.5 2034.3L1378.3 2053.0M1359.5 2053.0L1378.3 2034.3" fill="none" stroke="#0000ff" stroke-width="5.6"/><path d="M1384.0 2027.2H1410.5M1397.2 2014.0V2040.5M1387.9 2017.9L1406.6 2036.6M1387.9 2036.6L1406.6 2017.9" fill="none" stroke="#0000ff" stroke-width="5.6"/><path d="M1412.3 2019.7H1438.8M1425.6 2006.5V2033.0M1416.2 2010.4L1435.0 2029.1M1416.2 2029.1L1435.0 2010.4" fill="none" stroke="#0000ff" stroke-width="5.6"/><path d="M1440.7 2012.7H1467.2M1454.0 1999.4V2025.9M1444.6 2003.3L1463.3 2022.1M1444.6 2022.1L1463.3 2003.3" fill="none" stroke="#0000ff" stroke-width="5.6"/><path d="M1469.1 2003.3H1495.6M1482.3 1990.1V2016.6M1472.9 1993.9L1491.7 2012.7M1472.9 2012.7L1491.7 1993.9" fill="none" stroke="#0000ff" stroke-width="5.6"/><path d="M1497.4 1996.7H1523.9M1510.7 1983.5V2010.0M1501.3 1987.4L1520.0 2006.1M1501.3 2006.1L1520.0 1987.4" fill="none" stroke="#0000ff" stroke-width="5.6"/><path d="M1525.8 1981.3H1552.2M1539.0 1968.0V1994.5M1529.6 1971.9L1548.4 1990.6M1529.6 1990.6L1548.4 1971.9" fill="none" stroke="#0000ff" stroke-width="5.6"/><path d="M1554.1 1960.6H1580.6M1567.3 1947.4V1973.9M1558.0 1951.3L1576.7 1970.0M1558.0 1970.0L1576.7 1951.3" fill="none" stroke="#0000ff" stroke-width="5.6"/><path d="M1582.5 1939.1H1609.0M1595.7 1925.8V1952.3M1586.3 1929.7L1605.1 1948.4M1586.3 1948.4L1605.1 1929.7" fill="none" stroke="#0000ff" stroke-width="5.6"/>
<polyline points="320.0,2912.2 405.0,2821.7 461.7,2762.6 490.1,2735.4 518.4,2701.6 546.8,2665.5 575.1,2625.2 688.5,2536.1 716.9,2519.7 745.2,2508.9 858.6,2437.6 915.3,2401.5 972.0,2364.9 1085.4,2301.6 1142.1,2277.2 1198.8,2236.9 1255.5,2182.5 1368.9,2082.6 1482.3,2070.4 1539.0,2071.8" fill="none" stroke="#0072bd" stroke-width="4.9" stroke-linejoin="round"/><polygon points="320.0,2892.0 333.6,2912.2 320.0,2932.4 306.4,2912.2" fill="none" stroke="#0072bd" stroke-width="5.6" stroke-linejoin="miter" stroke-miterlimit="1.5"/><polygon points="405.0,2801.5 418.6,2821.7 405.0,2841.9 391.4,2821.7" fill="none" stroke="#0072bd" stroke-width="5.6" stroke-linejoin="miter" stroke-miterlimit="1.5"/><polygon points="461.7,2742.4 475.3,2762.6 461.7,2782.8 448.1,2762.6" fill="none" stroke="#0072bd" stroke-width="5.6" stroke-linejoin="miter" stroke-miterlimit="1.5"/><polygon points="490.1,2715.2 503.7,2735.4 490.1,2755.6 476.5,2735.4" fill="none" stroke="#0072bd" stroke-width="5.6" stroke-linejoin="miter" stroke-miterlimit="1.5"/><polygon points="518.4,2681.4 532.0,2701.6 518.4,2721.8 504.8,2701.6" fill="none" stroke="#0072bd" stroke-width="5.6" stroke-linejoin="miter" stroke-miterlimit="1.5"/><polygon points="546.8,2645.3 560.4,2665.5 546.8,2685.7 533.1,2665.5" fill="none" stroke="#0072bd" stroke-width="5.6" stroke-linejoin="miter" stroke-miterlimit="1.5"/><polygon points="575.1,2605.0 588.7,2625.2 575.1,2645.4 561.5,2625.2" fill="none" stroke="#0072bd" stroke-width="5.6" stroke-linejoin="miter" stroke-miterlimit="1.5"/><polygon points="688.5,2515.9 702.1,2536.1 688.5,2556.3 674.9,2536.1" fill="none" stroke="#0072bd" stroke-width="5.6" stroke-linejoin="miter" stroke-miterlimit="1.5"/><polygon points="716.9,2499.5 730.5,2519.7 716.9,2539.9 703.2,2519.7" fill="none" stroke="#0072bd" stroke-width="5.6" stroke-linejoin="miter" stroke-miterlimit="1.5"/><polygon points="745.2,2488.7 758.8,2508.9 745.2,2529.1 731.6,2508.9" fill="none" stroke="#0072bd" stroke-width="5.6" stroke-linejoin="miter" stroke-miterlimit="1.5"/><polygon points="858.6,2417.4 872.2,2437.6 858.6,2457.8 845.0,2437.6" fill="none" stroke="#0072bd" stroke-width="5.6" stroke-linejoin="miter" stroke-miterlimit="1.5"/><polygon points="915.3,2381.3 928.9,2401.5 915.3,2421.7 901.7,2401.5" fill="none" stroke="#0072bd" stroke-width="5.6" stroke-linejoin="miter" stroke-miterlimit="1.5"/><polygon points="972.0,2344.7 985.6,2364.9 972.0,2385.1 958.4,2364.9" fill="none" stroke="#0072bd" stroke-width="5.6" stroke-linejoin="miter" stroke-miterlimit="1.5"/><polygon points="1085.4,2281.4 1099.0,2301.6 1085.4,2321.8 1071.8,2301.6" fill="none" stroke="#0072bd" stroke-width="5.6" stroke-linejoin="miter" stroke-miterlimit="1.5"/><polygon points="1142.1,2257.0 1155.7,2277.2 1142.1,2297.4 1128.5,2277.2" fill="none" stroke="#0072bd" stroke-width="5.6" stroke-linejoin="miter" stroke-miterlimit="1.5"/><polygon points="1198.8,2216.7 1212.4,2236.9 1198.8,2257.1 1185.2,2236.9" fill="none" stroke="#0072bd" stroke-width="5.6" stroke-linejoin="miter" stroke-miterlimit="1.5"/><polygon points="1255.5,2162.3 1269.1,2182.5 1255.5,2202.7 1241.9,2182.5" fill="none" stroke="#0072bd" stroke-width="5.6" stroke-linejoin="miter" stroke-miterlimit="1.5"/><polygon points="1368.9,2062.4 1382.5,2082.6 1368.9,2102.8 1355.3,2082.6" fill="none" stroke="#0072bd" stroke-width="5.6" stroke-linejoin="miter" stroke-miterlimit="1.5"/><polygon points="1482.3,2050.2 1495.9,2070.4 1482.3,2090.6 1468.7,2070.4" fill="none" stroke="#0072bd" stroke-width="5.6" stroke-linejoin="miter" stroke-miterlimit="1.5"/><polygon points="1539.0,2051.6 1552.6,2071.8 1539.0,2092.0 1525.4,2071.8" fill="none" stroke="#0072bd" stroke-width="5.6" stroke-linejoin="miter" stroke-miterlimit="1.5"/>
<polyline points="320.0,2909.4 348.3,2897.2 376.7,2887.8 405.0,2859.7 433.4,2828.3 461.7,2803.0 490.1,2781.4 518.4,2762.6 546.8,2743.4 575.1,2719.0 603.5,2703.1 631.8,2682.9 660.2,2646.3 688.5,2622.4 716.9,2592.4 745.2,2567.0 773.6,2537.5 801.9,2502.3 830.2,2471.4 858.6,2428.2 887.0,2395.4 915.3,2371.9 943.7,2362.1 972.0,2340.5 1000.4,2326.9 1028.7,2313.8 1057.1,2300.2 1085.4,2281.4 1113.8,2254.2 1142.1,2233.6 1170.5,2212.5 1198.8,2194.7 1227.2,2174.0 1255.5,2153.9 1283.8,2132.3 1312.2,2112.1 1340.6,2093.4 1368.9,2082.6 1397.2,2071.8 1425.6,2058.6 1454.0,2039.9 1482.3,2017.4 1510.7,1987.4 1539.0,1960.6 1567.3,1934.8 1595.7,1909.0" fill="none" stroke="#d95319" stroke-width="4.9" stroke-linejoin="round"/><polygon points="320.0,2892.1 323.8,2904.1 336.4,2904.1 326.2,2911.5 330.1,2923.4 320.0,2916.0 309.8,2923.4 313.7,2911.5 303.5,2904.1 316.1,2904.1" fill="#d95319" stroke="#d95319" stroke-width="1.5" stroke-linejoin="miter"/><polygon points="348.3,2879.9 352.2,2891.9 364.8,2891.9 354.6,2899.3 358.5,2911.2 348.3,2903.8 338.1,2911.2 342.0,2899.3 331.8,2891.9 344.4,2891.9" fill="#d95319" stroke="#d95319" stroke-width="1.5" stroke-linejoin="miter"/><polygon points="376.7,2870.5 380.5,2882.5 393.1,2882.5 382.9,2889.9 386.8,2901.8 376.7,2894.4 366.5,2901.8 370.4,2889.9 360.2,2882.5 372.8,2882.5" fill="#d95319" stroke="#d95319" stroke-width="1.5" stroke-linejoin="miter"/><polygon points="405.0,2842.4 408.9,2854.4 421.5,2854.4 411.3,2861.7 415.2,2873.7 405.0,2866.3 394.8,2873.7 398.7,2861.7 388.5,2854.4 401.1,2854.4" fill="#d95319" stroke="#d95319" stroke-width="1.5" stroke-linejoin="miter"/><polygon points="433.4,2811.0 437.2,2822.9 449.8,2822.9 439.6,2830.3 443.5,2842.3 433.4,2834.9 423.2,2842.3 427.1,2830.3 416.9,2822.9 429.5,2822.9" fill="#d95319" stroke="#d95319" stroke-width="1.5" stroke-linejoin="miter"/><polygon points="461.7,2785.7 465.6,2797.6 478.2,2797.6 468.0,2805.0 471.9,2816.9 461.7,2809.6 451.5,2816.9 455.4,2805.0 445.2,2797.6 457.8,2797.6" fill="#d95319" stroke="#d95319" stroke-width="1.5" stroke-linejoin="miter"/><polygon points="490.1,2764.1 493.9,2776.0 506.5,2776.0 496.3,2783.4 500.2,2795.4 490.1,2788.0 479.9,2795.4 483.8,2783.4 473.6,2776.0 486.2,2776.0" fill="#d95319" stroke="#d95319" stroke-width="1.5" stroke-linejoin="miter"/><polygon points="518.4,2745.3 522.3,2757.3 534.9,2757.3 524.7,2764.7 528.6,2776.6 518.4,2769.2 508.2,2776.6 512.1,2764.7 501.9,2757.3 514.5,2757.3" fill="#d95319" stroke="#d95319" stroke-width="1.5" stroke-linejoin="miter"/><polygon points="546.8,2726.1 550.6,2738.0 563.2,2738.0 553.0,2745.4 556.9,2757.4 546.8,2750.0 536.6,2757.4 540.5,2745.4 530.3,2738.0 542.9,2738.0" fill="#d95319" stroke="#d95319" stroke-width="1.5" stroke-linejoin="miter"/><polygon points="575.1,2701.7 579.0,2713.7 591.6,2713.7 581.4,2721.0 585.3,2733.0 575.1,2725.6 564.9,2733.0 568.8,2721.0 558.6,2713.7 571.2,2713.7" fill="#d95319" stroke="#d95319" stroke-width="1.5" stroke-linejoin="miter"/><polygon points="603.5,2685.8 607.3,2697.7 619.9,2697.7 609.7,2705.1 613.6,2717.0 603.5,2709.7 593.3,2717.0 597.2,2705.1 587.0,2697.7 599.6,2697.7" fill="#d95319" stroke="#d95319" stroke-width="1.5" stroke-linejoin="miter"/><polygon points="631.8,2665.6 635.7,2677.5 648.3,2677.5 638.1,2684.9 642.0,2696.9 631.8,2689.5 621.6,2696.9 625.5,2684.9 615.3,2677.5 627.9,2677.5" fill="#d95319" stroke="#d95319" stroke-width="1.5" stroke-linejoin="miter"/><polygon points="660.2,2629.0 664.0,2641.0 676.6,2641.0 666.4,2648.3 670.3,2660.3 660.2,2652.9 650.0,2660.3 653.9,2648.3 643.7,2641.0 656.3,2641.0" fill="#d95319" stroke="#d95319" stroke-width="1.5" stroke-linejoin="miter"/><polygon points="688.5,2605.1 692.4,2617.0 705.0,2617.0 694.8,2624.4 698.7,2636.4 688.5,2629.0 678.3,2636.4 682.2,2624.4 672.0,2617.0 684.6,2617.0" fill="#d95319" stroke="#d95319" stroke-width="1.5" stroke-linejoin="miter"/><polygon points="716.9,2575.1 720.7,2587.0 733.3,2587.0 723.1,2594.4 727.0,2606.4 716.9,2599.0 706.7,2606.4 710.6,2594.4 700.4,2587.0 713.0,2587.0" fill="#d95319" stroke="#d95319" stroke-width="1.5" stroke-linejoin="miter"/><polygon points="745.2,2549.7 749.1,2561.7 761.7,2561.7 751.5,2569.1 755.4,2581.0 745.2,2573.7 735.0,2581.0 738.9,2569.1 728.7,2561.7 741.3,2561.7" fill="#d95319" stroke="#d95319" stroke-width="1.5" stroke-linejoin="miter"/><polygon points="773.6,2520.2 777.4,2532.2 790.0,2532.2 779.8,2539.5 783.7,2551.5 773.6,2544.1 763.4,2551.5 767.3,2539.5 757.1,2532.2 769.7,2532.2" fill="#d95319" stroke="#d95319" stroke-width="1.5" stroke-linejoin="miter"/><polygon points="801.9,2485.0 805.8,2497.0 818.4,2497.0 808.2,2504.4 812.1,2516.3 801.9,2508.9 791.7,2516.3 795.6,2504.4 785.4,2497.0 798.0,2497.0" fill="#d95319" stroke="#d95319" stroke-width="1.5" stroke-linejoin="miter"/><polygon points="830.2,2454.1 834.1,2466.0 846.7,2466.0 836.5,2473.4 840.4,2485.4 830.2,2478.0 820.1,2485.4 824.0,2473.4 813.8,2466.0 826.4,2466.0" fill="#d95319" stroke="#d95319" stroke-width="1.5" stroke-linejoin="miter"/><polygon points="858.6,2410.9 862.5,2422.9 875.1,2422.9 864.9,2430.3 868.8,2442.2 858.6,2434.8 848.4,2442.2 852.3,2430.3 842.1,2422.9 854.7,2422.9" fill="#d95319" stroke="#d95319" stroke-width="1.5" stroke-linejoin="miter"/><polygon points="887.0,2378.1 890.8,2390.0 903.4,2390.0 893.2,2397.4 897.1,2409.4 887.0,2402.0 876.8,2409.4 880.7,2397.4 870.5,2390.0 883.1,2390.0" fill="#d95319" stroke="#d95319" stroke-width="1.5" stroke-linejoin="miter"/><polygon points="915.3,2354.6 919.2,2366.6 931.8,2366.6 921.6,2374.0 925.5,2385.9 915.3,2378.5 905.1,2385.9 909.0,2374.0 898.8,2366.6 911.4,2366.6" fill="#d95319" stroke="#d95319" stroke-width="1.5" stroke-linejoin="miter"/><polygon points="943.7,2344.8 947.5,2356.7 960.1,2356.7 949.9,2364.1 953.8,2376.1 943.7,2368.7 933.5,2376.1 937.4,2364.1 927.2,2356.7 939.8,2356.7" fill="#d95319" stroke="#d95319" stroke-width="1.5" stroke-linejoin="miter"/><polygon points="972.0,2323.2 975.9,2335.2 988.5,2335.2 978.3,2342.6 982.2,2354.5 972.0,2347.1 961.8,2354.5 965.7,2342.6 955.5,2335.2 968.1,2335.2" fill="#d95319" stroke="#d95319" stroke-width="1.5" stroke-linejoin="miter"/><polygon points="1000.4,2309.6 1004.2,2321.6 1016.8,2321.6 1006.6,2329.0 1010.5,2340.9 1000.4,2333.5 990.2,2340.9 994.1,2329.0 983.9,2321.6 996.5,2321.6" fill="#d95319" stroke="#d95319" stroke-width="1.5" stroke-linejoin="miter"/><polygon points="1028.7,2296.5 1032.6,2308.4 1045.2,2308.4 1035.0,2315.8 1038.9,2327.8 1028.7,2320.4 1018.5,2327.8 1022.4,2315.8 1012.2,2308.4 1024.8,2308.4" fill="#d95319" stroke="#d95319" stroke-width="1.5" stroke-linejoin="miter"/><polygon points="1057.1,2282.9 1060.9,2294.8 1073.5,2294.8 1063.3,2302.2 1067.2,2314.2 1057.1,2306.8 1046.9,2314.2 1050.8,2302.2 1040.6,2294.8 1053.2,2294.8" fill="#d95319" stroke="#d95319" stroke-width="1.5" stroke-linejoin="miter"/><polygon points="1085.4,2264.1 1089.3,2276.1 1101.9,2276.1 1091.7,2283.5 1095.6,2295.4 1085.4,2288.0 1075.2,2295.4 1079.1,2283.5 1068.9,2276.1 1081.5,2276.1" fill="#d95319" stroke="#d95319" stroke-width="1.5" stroke-linejoin="miter"/><polygon points="1113.8,2236.9 1117.6,2248.9 1130.2,2248.9 1120.0,2256.3 1123.9,2268.2 1113.8,2260.8 1103.6,2268.2 1107.5,2256.3 1097.3,2248.9 1109.9,2248.9" fill="#d95319" stroke="#d95319" stroke-width="1.5" stroke-linejoin="miter"/><polygon points="1142.1,2216.3 1146.0,2228.2 1158.6,2228.2 1148.4,2235.6 1152.3,2247.6 1142.1,2240.2 1131.9,2247.6 1135.8,2235.6 1125.6,2228.2 1138.2,2228.2" fill="#d95319" stroke="#d95319" stroke-width="1.5" stroke-linejoin="miter"/><polygon points="1170.5,2195.2 1174.3,2207.1 1186.9,2207.1 1176.7,2214.5 1180.6,2226.5 1170.5,2219.1 1160.3,2226.5 1164.2,2214.5 1154.0,2207.1 1166.6,2207.1" fill="#d95319" stroke="#d95319" stroke-width="1.5" stroke-linejoin="miter"/><polygon points="1198.8,2177.4 1202.7,2189.3 1215.3,2189.3 1205.1,2196.7 1209.0,2208.7 1198.8,2201.3 1188.6,2208.7 1192.5,2196.7 1182.3,2189.3 1194.9,2189.3" fill="#d95319" stroke="#d95319" stroke-width="1.5" stroke-linejoin="miter"/><polygon points="1227.2,2156.7 1231.0,2168.7 1243.6,2168.7 1233.4,2176.1 1237.3,2188.0 1227.2,2180.6 1217.0,2188.0 1220.9,2176.1 1210.7,2168.7 1223.3,2168.7" fill="#d95319" stroke="#d95319" stroke-width="1.5" stroke-linejoin="miter"/><polygon points="1255.5,2136.6 1259.4,2148.5 1272.0,2148.5 1261.8,2155.9 1265.7,2167.9 1255.5,2160.5 1245.3,2167.9 1249.2,2155.9 1239.0,2148.5 1251.6,2148.5" fill="#d95319" stroke="#d95319" stroke-width="1.5" stroke-linejoin="miter"/><polygon points="1283.8,2115.0 1287.7,2126.9 1300.3,2126.9 1290.1,2134.3 1294.0,2146.3 1283.8,2138.9 1273.7,2146.3 1277.6,2134.3 1267.4,2126.9 1280.0,2126.9" fill="#d95319" stroke="#d95319" stroke-width="1.5" stroke-linejoin="miter"/><polygon points="1312.2,2094.8 1316.1,2106.8 1328.7,2106.8 1318.5,2114.2 1322.4,2126.1 1312.2,2118.7 1302.0,2126.1 1305.9,2114.2 1295.7,2106.8 1308.3,2106.8" fill="#d95319" stroke="#d95319" stroke-width="1.5" stroke-linejoin="miter"/><polygon points="1340.6,2076.1 1344.4,2088.0 1357.0,2088.0 1346.8,2095.4 1350.7,2107.3 1340.6,2100.0 1330.4,2107.3 1334.3,2095.4 1324.1,2088.0 1336.7,2088.0" fill="#d95319" stroke="#d95319" stroke-width="1.5" stroke-linejoin="miter"/><polygon points="1368.9,2065.3 1372.8,2077.2 1385.4,2077.2 1375.2,2084.6 1379.1,2096.6 1368.9,2089.2 1358.7,2096.6 1362.6,2084.6 1352.4,2077.2 1365.0,2077.2" fill="#d95319" stroke="#d95319" stroke-width="1.5" stroke-linejoin="miter"/><polygon points="1397.2,2054.5 1401.1,2066.4 1413.7,2066.4 1403.5,2073.8 1407.4,2085.8 1397.2,2078.4 1387.1,2085.8 1391.0,2073.8 1380.8,2066.4 1393.4,2066.4" fill="#d95319" stroke="#d95319" stroke-width="1.5" stroke-linejoin="miter"/><polygon points="1425.6,2041.3 1429.5,2053.3 1442.1,2053.3 1431.9,2060.7 1435.8,2072.6 1425.6,2065.3 1415.4,2072.6 1419.3,2060.7 1409.1,2053.3 1421.7,2053.3" fill="#d95319" stroke="#d95319" stroke-width="1.5" stroke-linejoin="miter"/><polygon points="1454.0,2022.6 1457.8,2034.5 1470.4,2034.5 1460.2,2041.9 1464.1,2053.9 1454.0,2046.5 1443.8,2053.9 1447.7,2041.9 1437.5,2034.5 1450.1,2034.5" fill="#d95319" stroke="#d95319" stroke-width="1.5" stroke-linejoin="miter"/><polygon points="1482.3,2000.1 1486.2,2012.0 1498.8,2012.0 1488.6,2019.4 1492.5,2031.4 1482.3,2024.0 1472.1,2031.4 1476.0,2019.4 1465.8,2012.0 1478.4,2012.0" fill="#d95319" stroke="#d95319" stroke-width="1.5" stroke-linejoin="miter"/><polygon points="1510.7,1970.1 1514.5,1982.0 1527.1,1982.0 1516.9,1989.4 1520.8,2001.4 1510.7,1994.0 1500.5,2001.4 1504.4,1989.4 1494.2,1982.0 1506.8,1982.0" fill="#d95319" stroke="#d95319" stroke-width="1.5" stroke-linejoin="miter"/><polygon points="1539.0,1943.3 1542.9,1955.3 1555.5,1955.3 1545.3,1962.7 1549.2,1974.6 1539.0,1967.2 1528.8,1974.6 1532.7,1962.7 1522.5,1955.3 1535.1,1955.3" fill="#d95319" stroke="#d95319" stroke-width="1.5" stroke-linejoin="miter"/><polygon points="1567.3,1917.5 1571.2,1929.5 1583.8,1929.5 1573.6,1936.9 1577.5,1948.8 1567.3,1941.4 1557.2,1948.8 1561.1,1936.9 1550.9,1929.5 1563.5,1929.5" fill="#d95319" stroke="#d95319" stroke-width="1.5" stroke-linejoin="miter"/><polygon points="1595.7,1891.7 1599.6,1903.7 1612.2,1903.7 1602.0,1911.1 1605.9,1923.0 1595.7,1915.6 1585.5,1923.0 1589.4,1911.1 1579.2,1903.7 1591.8,1903.7" fill="#d95319" stroke="#d95319" stroke-width="1.5" stroke-linejoin="miter"/>
<rect x="291.6" y="1733.8" width="1417.6" height="1172.8" fill="none" stroke="#262626" stroke-width="5.6"/>
<rect x="333.0" y="1764.7" width="392.0" height="298.0" fill="#fff" stroke="#262626" stroke-width="4.4"/>
<polyline points="333.0,1818.0 333.0,1764.7 447.0,1764.7" fill="none" stroke="#9a1616" stroke-width="4.4" stroke-linecap="round"/>
<line x1="348" y1="1798.2" x2="441" y2="1798.2" stroke="#9a1616" stroke-width="5.4" stroke-linecap="round"/>
<circle cx="394.0" cy="1798.2" r="17.0" fill="none" stroke="#9a1616" stroke-width="5.88"/>
<text x="453" y="1810.5" font-size="48" fill="#000" textLength="257" lengthAdjust="spacing">Groundtruth</text>
<line x1="348" y1="1856.5" x2="441" y2="1856.5" stroke="#00ff00" stroke-width="5.4" stroke-linecap="round"/>
<polygon points="394.0,1840.7 407.2,1864.8 380.8,1864.8" fill="none" stroke="#00ff00" stroke-width="5.6" stroke-linejoin="miter"/>
<text x="453" y="1868.8" font-size="48" fill="#000" textLength="101" lengthAdjust="spacing">FMT</text>
<line x1="348" y1="1915.5" x2="441" y2="1915.5" stroke="#0000ff" stroke-width="5.4" stroke-linecap="round"/>
<path d="M382.5 1915.5H405.5M394.0 1904.0V1927.0M385.9 1907.4L402.1 1923.6M385.9 1923.6L402.1 1907.4" fill="none" stroke="#0000ff" stroke-width="6.0"/>
<text x="453" y="1927.8" font-size="48" fill="#000" textLength="256" lengthAdjust="spacing">eFMT(Ours)</text>
<line x1="348" y1="1972.0" x2="441" y2="1972.0" stroke="#0072bd" stroke-width="5.4" stroke-linecap="round"/>
<polygon points="394.0,1951.8 407.6,1972.0 394.0,1992.2 380.4,1972.0" fill="none" stroke="#0072bd" stroke-width="5.88" stroke-linejoin="miter" stroke-miterlimit="1.5"/>
<text x="453" y="1984.3" font-size="48" fill="#000" textLength="269" lengthAdjust="spacing">ORB-SLAM3</text>
<line x1="348" y1="2028.3" x2="441" y2="2028.3" stroke="#d95319" stroke-width="5.4" stroke-linecap="round"/>
<polygon points="394.0,2008.9 398.4,2022.3 412.4,2022.3 401.0,2030.6 405.4,2044.0 394.0,2035.7 382.6,2044.0 387.0,2030.6 375.6,2022.3 389.6,2022.3" fill="#d95319" stroke="#d95319" stroke-width="1.5" stroke-linejoin="miter"/>
<text x="453" y="2040.6" font-size="48" fill="#000" textLength="91" lengthAdjust="spacing">SVO</text>
<text x="292.1" y="2968.5" font-size="51" fill="#262626" text-anchor="middle">0</text>
<text x="575.6" y="2968.5" font-size="51" fill="#262626" text-anchor="middle">10</text>
<text x="859.1" y="2968.5" font-size="51" fill="#262626" text-anchor="middle">20</text>
<text x="1142.6" y="2968.5" font-size="51" fill="#262626" text-anchor="middle">30</text>
<text x="1426.1" y="2968.5" font-size="51" fill="#262626" text-anchor="middle">40</text>
<text x="1709.6" y="2968.5" font-size="51" fill="#262626" text-anchor="middle">50</text>
<text x="270.5" y="2919.1" font-size="51" fill="#262626" text-anchor="end">0</text>
<text x="270.5" y="2684.6" font-size="51" fill="#262626" text-anchor="end">0.05</text>
<text x="270.5" y="2450.1" font-size="51" fill="#262626" text-anchor="end">0.1</text>
<text x="270.5" y="2215.6" font-size="51" fill="#262626" text-anchor="end">0.15</text>
<text x="270.5" y="1981.1" font-size="51" fill="#262626" text-anchor="end">0.2</text>
<text x="270.5" y="1746.6" font-size="51" fill="#262626" text-anchor="end">0.25</text>
<text x="919.5" y="3039" font-size="58" fill="#262626" textLength="161" lengthAdjust="spacingAndGlyphs">frames</text>
<text transform="translate(150,2321.5) rotate(-90)" font-size="58" fill="#262626" text-anchor="middle" textLength="555" lengthAdjust="spacing">positions (m) in x axis</text>
</g>
<g id="captions" font-size="69" fill="#000">
<text x="414.6" y="1512.0" textLength="74.8" lengthAdjust="spacingAndGlyphs">(a)</text>
<text x="518.5" y="1512.0" textLength="125.3" lengthAdjust="spacingAndGlyphs">Real</text>
<text x="662.0" y="1512.0" textLength="373.8" lengthAdjust="spacingAndGlyphs">environment</text>
<text x="1060.0" y="1512.0" textLength="47.5" lengthAdjust="spacingAndGlyphs">(y</text>
<text x="1132.6" y="1512.0" textLength="184" lengthAdjust="spacingAndGlyphs">points</text>
<text x="1335.0" y="1512.0" textLength="190.0" lengthAdjust="spacingAndGlyphs">down)</text>
<text x="474.6" y="3167.5" textLength="77.6" lengthAdjust="spacingAndGlyphs">(b)</text>
<text x="583.7" y="3167.5" textLength="180.8" lengthAdjust="spacingAndGlyphs">Visual</text>
<text x="780.7" y="3167.5" textLength="305.5" lengthAdjust="spacingAndGlyphs">Odometry</text>
<text x="1099.5" y="3167.5" textLength="366.5" lengthAdjust="spacingAndGlyphs">Comparison</text>
</g>
</svg>
</body></html>
